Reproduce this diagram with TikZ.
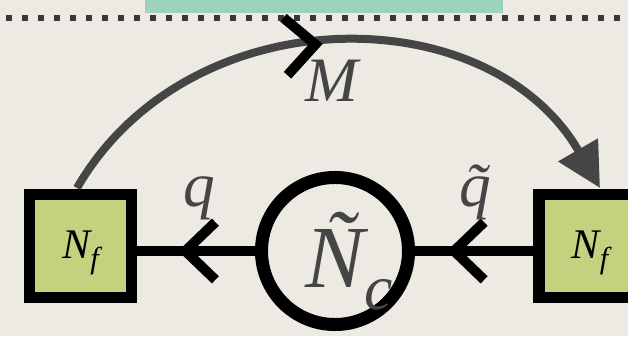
\documentclass[tikz,border=0pt]{standalone}
\usepackage{fontspec}
\setmainfont{Liberation Serif}
\usetikzlibrary{
  arrows.meta,
  positioning,
  calc,
  decorations.markings
}
\definecolor{paper}{HTML}{EDEAE4}
\definecolor{bandTeal}{HTML}{9DD3BE}
\definecolor{flavFill}{HTML}{C5D17E}
\definecolor{inkGray}{HTML}{454545}

\newcommand{\lowidx}[1]{\raisebox{-0.25em}{\scalebox{0.72}{\itshape #1}}}

\tikzset{
  flavour/.style={draw=black, line width=0.275cm, fill=flavFill, minimum size=2.55cm,
    inner sep=0pt, font=\fontsize{30}{30}\selectfont\itshape, text height=0.85cm, text depth=0.25cm},
  colour/.style={circle, draw=black, line width=0.325cm, minimum size=3.675cm, inner sep=0pt},
  fieldline/.style={line width=0.25cm},
  chev/.style={postaction={decorate}, decoration={markings, mark=at position #1 with
    {\draw[-, black, line width=0.25cm, line join=miter] (-0.75cm,0.72cm) -- (0,0) -- (-0.75cm,-0.72cm);}}},
  mesonline/.style={draw=inkGray, line width=0.2cm, -{Triangle[length=1.1cm, width=1.1cm]}},
  fieldlbl/.style={text=inkGray, inner sep=0pt, font=\fontsize{45}{45}\selectfont\itshape},
  dots/.style={draw=black!78, line width=0.15cm, dash pattern=on 0.15cm off 0.25cm}
}

\begin{document}
\begin{tikzpicture}[x=0.025cm, y=0.025cm]
  % paper and frame
  \fill[paper] (0,0) rectangle (628,336);
  \clip (0,0) rectangle (628,336);
  \fill[bandTeal] (145,323) rectangle (503,336);
  \draw[dots] (6,318) -- (628,318);

  % flavour boxes and the gauge circle
  \node[colour] (circ) at (335,85) {};
  \coordinate (arcL) at (77,148);
  \coordinate (arcR) at (600,148);
  \draw[mesonline, chev=0.463] (arcL) to[bend left=60, looseness=1.09] (arcR);
  \node[flavour] (lsq) at (80.5,90) {N\lowidx{f}};
  \node[flavour] (rsq) at (590,90) {N\lowidx{f}};

  % quark lines
  \draw[fieldline, chev=0.59] (circ.west) -- (circ.west -| lsq.east);
  \draw[fieldline, chev=0.67] (circ.east -| rsq.west) -- (circ.east);

  % labels
  \node[fieldlbl, anchor=base] (qlbl) at (199,130) {q};
  \node[fieldlbl, anchor=base] (qtlbl) at (475,130) {\~q};
  \node[fieldlbl, anchor=base] (mlbl) at (332,234) {M};
  \node[fieldlbl, anchor=base west, font=\fontsize{63}{63}\selectfont\itshape] (nclbl) at (305,49) {Ñ\lowidx{c}};
\end{tikzpicture}
\end{document}
